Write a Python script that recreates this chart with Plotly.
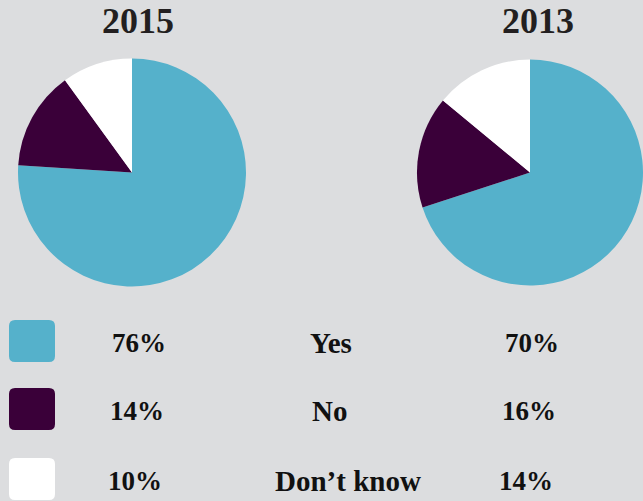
import plotly.graph_objects as go

categories = ["Yes", "No", "Don\u2019t know"]
values_2015 = [76, 14, 10]
values_2013 = [70, 16, 14]
years = ["2015", "2013"]
colors = ["#55b1cb", "#3a0039", "#ffffff"]

W, H = 643, 501
BG = "#dcdddf"
SERIF = "Liberation Serif, Times New Roman, serif"

fig = go.Figure()

def px_dom(x0, x1, y0, y1):
    return dict(x=[x0 / W, min(x1 / W, 1.0)], y=[1 - y1 / H, 1 - y0 / H])

fig.add_trace(go.Pie(
    labels=categories, values=values_2015, sort=False, direction="clockwise",
    rotation=0, textinfo="none", hoverinfo="label+percent",
    marker=dict(colors=colors, line=dict(width=0)),
    domain=px_dom(18, 246, 58, 287), showlegend=False,
))
fig.add_trace(go.Pie(
    labels=categories, values=values_2013, sort=False, direction="clockwise",
    rotation=0, textinfo="none", hoverinfo="label+percent",
    marker=dict(colors=colors, line=dict(width=0)),
    domain=px_dom(417, 643, 58, 287), showlegend=False,
))

annotations = []
# year titles
for yr, cx in zip(years, [138, 538]):
    annotations.append(dict(x=cx / W, y=1 - 21 / H, xref="paper", yref="paper",
                            text=f"<b>{yr}</b>", showarrow=False,
                            font=dict(family=SERIF, size=36, color="#231f20"),
                            xanchor="center", yanchor="middle"))

row_y = [343, 411, 481]
word_x = [331, 329, 348]
shapes = []
r = 6
for i, (cat, v15, v13, col) in enumerate(zip(categories, values_2015, values_2013, colors)):
    yc = row_y[i]
    x0, x1 = 9, 55
    y0, y1 = yc - 23, yc + 19
    path = (f"M {x0+r},{y0} L {x1-r},{y0} Q {x1},{y0} {x1},{y0+r} "
            f"L {x1},{y1-r} Q {x1},{y1} {x1-r},{y1} L {x0+r},{y1} "
            f"Q {x0},{y1} {x0},{y1-r} L {x0},{y0+r} Q {x0},{y0} {x0+r},{y0} Z")
    shapes.append(dict(type="path", path=path, xref="x", yref="y",
                       fillcolor=col, line=dict(width=0), layer="above"))
    for txt, cx, fs in [(f"{v15}%", 139 - i * 2, 27), (cat, word_x[i], 29),
                        (f"{v13}%", 532 - i * 3, 27)]:
        annotations.append(dict(x=cx, y=yc, xref="x", yref="y",
                                text=f"<b>{txt}</b>", showarrow=False,
                                font=dict(family=SERIF, size=fs, color="#111111"),
                                xanchor="center", yanchor="middle"))

fig.update_layout(
    width=W, height=H,
    margin=dict(l=0, r=0, t=0, b=0),
    paper_bgcolor=BG, plot_bgcolor=BG,
    xaxis=dict(range=[0, W], visible=False, fixedrange=True),
    yaxis=dict(range=[H, 0], visible=False, fixedrange=True),
    shapes=shapes, annotations=annotations,
)

fig.write_html(
    "out.html",
    config={"displayModeBar": False},
    post_script=(
        "document.documentElement.style.margin='0';"
        "document.documentElement.style.overflow='hidden';"
        "document.documentElement.style.background='" + BG + "';"
        "document.body.style.margin='0';"
        "document.body.style.overflow='hidden';"
        "document.body.style.background='" + BG + "';"
    ),
)
